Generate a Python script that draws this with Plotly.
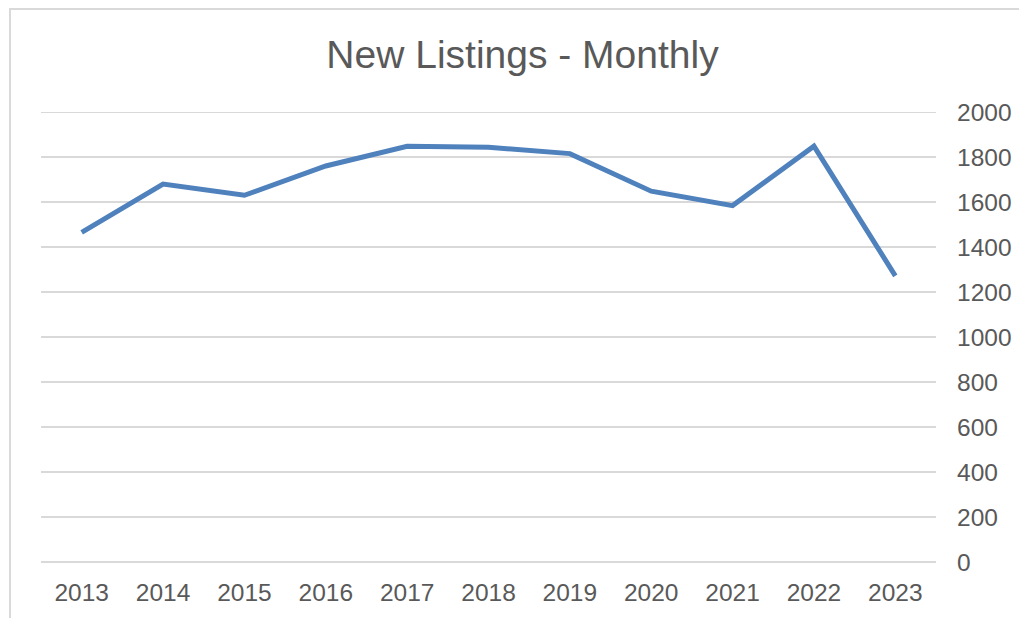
import plotly.graph_objects as go

years = ["2013", "2014", "2015", "2016", "2017", "2018", "2019", "2020", "2021", "2022", "2023"]
listings = [1465, 1680, 1630, 1760, 1848, 1843, 1815, 1648, 1584, 1848, 1272]
y_ticks = [0, 200, 400, 600, 800, 1000, 1200, 1400, 1600, 1800, 2000]

W, H = 1019, 618
L, R, T, B = 41, 83, 112, 56
pw, ph = W - L - R, H - T - B

def px(x):
    return (x - L) / pw

def py(y):
    return (H - B - y) / ph

fig = go.Figure()
fig.add_trace(go.Scatter(
    x=years, y=listings, mode="lines",
    line=dict(color="#4f81bd", width=5),
    hoverinfo="x+y", showlegend=False,
))

fig.update_layout(
    width=W, height=H,
    margin=dict(l=L, r=R, t=T, b=B),
    paper_bgcolor="white", plot_bgcolor="white",
    font=dict(family="Liberation Sans, Arial, sans-serif", color="#595959"),
    title=dict(text="New Listings - Monthly", x=522.5 / W, xanchor="center",
               xref="container", yref="container", y=1 - 54 / H, yanchor="middle",
               font=dict(size=39, color="#595959")),
    xaxis=dict(type="category", range=[-0.5, 10.5], showgrid=False, zeroline=False,
               showline=False, ticks="", ticklabelstandoff=13, automargin=False,
               tickfont=dict(size=24.5, color="#595959")),
    yaxis=dict(side="right", range=[y_ticks[0], y_ticks[-1]], tickvals=y_ticks,
               showgrid=True, gridcolor="#d9d9d9", gridwidth=2,
               zeroline=True, zerolinecolor="#d9d9d9", zerolinewidth=2,
               showline=False, ticks="", ticklabelstandoff=20, automargin=False,
               tickfont=dict(size=24.5, color="#595959")),
    shapes=[
        dict(type="rect", xref="paper", yref="paper",
             x0=px(10), x1=px(W + 30), y0=py(9), y1=py(H + 30),
             line=dict(color="#d9d9d9", width=2), layer="below"),
        dict(type="line", xref="paper", yref="y", x0=0, x1=1,
             y0=y_ticks[-1], y1=y_ticks[-1],
             line=dict(color="#d9d9d9", width=2), layer="below"),
    ],
)

fig.write_html("out.html")
